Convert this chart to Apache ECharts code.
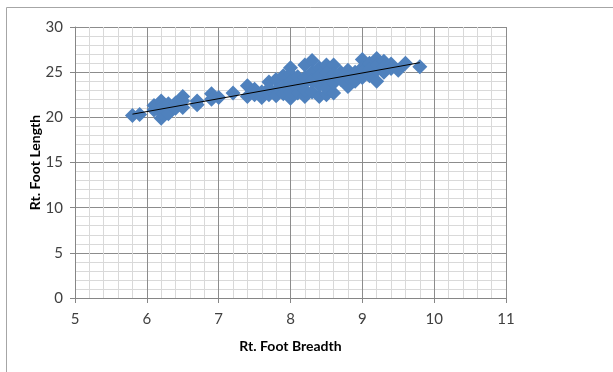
<!DOCTYPE html>
<html>
<head>
<meta charset="utf-8">
<script src="https://cdn.jsdelivr.net/npm/echarts@6/dist/echarts.min.js"></script>
<style>
  html, body { margin: 0; padding: 0; background: #fff; }
  #main { width: 613px; height: 372px; }
</style>
</head>
<body>
<div id="main"></div>
<script>
// breadth (x) and length (y)
var breadth = [
  5.8, 5.9,
  6.1, 6.1, 6.2, 6.2, 6.2, 6.2, 6.3, 6.3, 6.4, 6.4, 6.5, 6.5, 6.5,
  6.7, 6.7, 6.9, 6.9, 7.0, 7.2,
  7.4, 7.4, 7.5, 7.5, 7.6, 7.6, 7.7, 7.7, 7.7, 7.8, 7.8, 7.8, 7.9, 7.9, 7.9,
  8.0, 8.0, 8.0, 8.0, 8.0, 8.0, 8.1, 8.1, 8.1,
  8.2, 8.2, 8.2, 8.2, 8.2, 8.3, 8.3, 8.3, 8.3, 8.4, 8.4, 8.4, 8.4,
  8.5, 8.5, 8.5, 8.5, 8.5, 8.6, 8.6, 8.6, 8.6, 8.7, 8.7,
  8.8, 8.8, 8.8, 8.9, 8.9, 9.0, 9.0, 9.0, 9.0, 9.1, 9.1, 9.1,
  9.2, 9.2, 9.2, 9.2, 9.3, 9.3, 9.3, 9.4, 9.4, 9.5, 9.6, 9.8
];
var length = [
  20.2, 20.3,
  21.3, 20.8, 21.8, 19.9, 21.0, 20.5, 21.5, 20.4, 21.6, 21.0, 22.3, 21.1, 21.8,
  21.8, 21.4, 22.6, 22.0, 22.2, 22.7,
  23.5, 22.3, 23.1, 22.5, 22.2, 22.8, 23.9, 22.5, 23.2, 24.2, 23.0, 22.4, 24.6, 23.4, 22.6,
  25.5, 24.8, 22.1, 23.5, 24.0, 22.8, 24.5, 23.2, 22.7,
  25.8, 22.3, 23.8, 24.4, 23.0, 26.3, 25.0, 22.8, 24.0, 25.5, 22.3, 23.6, 24.6,
  25.8, 22.5, 24.0, 25.0, 23.2, 25.8, 22.7, 23.8, 24.8, 25.0, 24.2,
  25.2, 23.4, 24.5, 24.0, 25.0, 26.4, 24.4, 25.5, 25.0, 26.0, 24.6, 25.3,
  26.5, 24.0, 25.2, 25.8, 26.2, 25.0, 25.6, 25.9, 25.4, 25.2, 26.0, 25.6
];
// trend line end points
var trendX = [5.8, 9.8];
var trendY = [20.35, 26.05];

var xTicks = [5, 6, 7, 8, 9, 10, 11];
var yTicks = [0, 5, 10, 15, 20, 25, 30];

var points = breadth.map(function (b, i) { return [b, length[i]]; });
var trend = trendX.map(function (t, i) { return [t, trendY[i]]; });

var myChart = echarts.init(document.getElementById('main'));
var font = 'Lato, "Open Sans", sans-serif';
var option = {
    animation: false,
    backgroundColor: '#fff',
    graphic: [
        {
            type: 'rect',
            shape: { x: 6.5, y: 7.5, width: 620, height: 380 },
            style: { fill: 'none', stroke: '#a6a6a6', lineWidth: 1 }
        }
    ],
    grid: { left: 75, right: 107, top: 27, bottom: 74 },
    xAxis: {
        type: 'value',
        min: xTicks[0],
        max: xTicks[xTicks.length - 1],
        interval: 1,
        name: 'Rt. Foot Breadth',
        nameLocation: 'middle',
        nameGap: 41,
        nameMoveOverlap: false,
        nameTextStyle: { fontFamily: font, fontWeight: 'bold', fontSize: 14, color: '#000' },
        axisLine: { onZero: false, lineStyle: { color: '#868686' } },
        axisTick: { show: true, length: 5, lineStyle: { color: '#868686' } },
        axisLabel: { fontFamily: font, fontSize: 15, color: '#404040', margin: 14 },
        splitLine: { show: true, lineStyle: { color: '#8c8c8c' } },
        minorTick: { show: false, splitNumber: 5 },
        minorSplitLine: { show: true, lineStyle: { color: '#d9d9d9' } }
    },
    yAxis: {
        type: 'value',
        min: yTicks[0],
        max: yTicks[yTicks.length - 1],
        interval: 5,
        name: 'Rt. Foot Length',
        nameLocation: 'middle',
        nameGap: 33,
        nameMoveOverlap: false,
        nameTextStyle: { fontFamily: font, fontWeight: 'bold', fontSize: 14, color: '#000' },
        axisLine: { show: true, lineStyle: { color: '#868686' } },
        axisTick: { show: true, length: 5, lineStyle: { color: '#868686' } },
        axisLabel: { fontFamily: font, fontSize: 15, color: '#404040', margin: 12 },
        splitLine: { show: true, lineStyle: { color: '#8c8c8c' } },
        minorTick: { show: false, splitNumber: 5 },
        minorSplitLine: { show: true, lineStyle: { color: '#d9d9d9' } }
    },
    series: [
        {
            name: 'Rt. Foot Length',
            type: 'scatter',
            symbol: 'diamond',
            symbolSize: 15,
            itemStyle: { color: '#4f81bd', opacity: 1 },
            data: points,
            z: 2
        },
        {
            name: 'Trend',
            type: 'line',
            showSymbol: false,
            lineStyle: { color: '#000', width: 1 },
            data: trend,
            z: 3
        }
    ]
};
myChart.setOption(option);
</script>
</body>
</html>
